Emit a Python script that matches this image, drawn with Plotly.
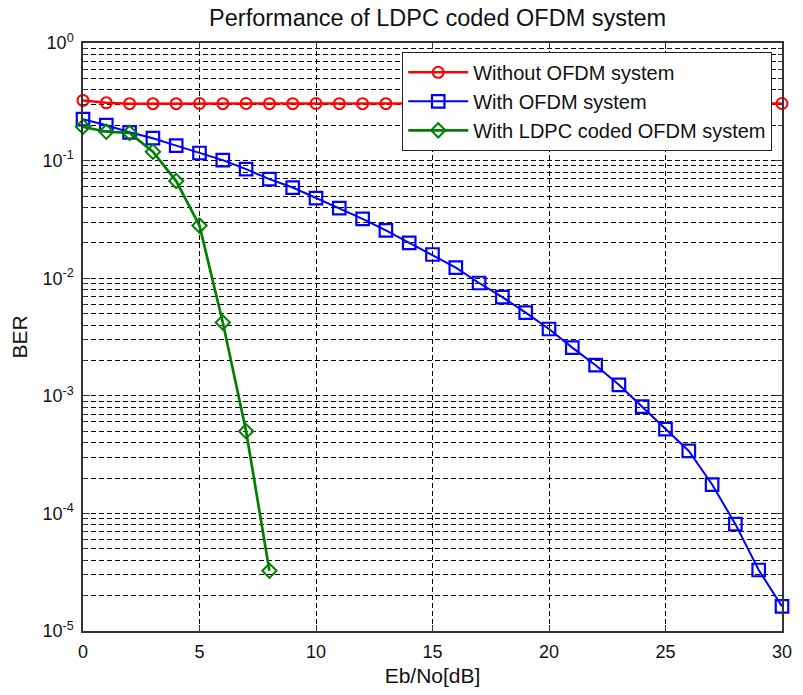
import plotly.graph_objects as go

# ---- data ----
ebno = list(range(0, 31))
ber_no_ofdm = [0.325, 0.31, 0.305, 0.305, 0.305, 0.306, 0.305, 0.306, 0.305, 0.305,
               0.306, 0.305, 0.305, 0.305, 0.306, 0.305, 0.305, 0.306, 0.305, 0.305,
               0.306, 0.305, 0.305, 0.305, 0.306, 0.305, 0.305, 0.306, 0.305, 0.305, 0.306]
ber_ofdm = [0.225, 0.2, 0.174, 0.155, 0.134, 0.116, 0.101, 0.0846, 0.0695, 0.059,
            0.048, 0.0395, 0.032, 0.0255, 0.020, 0.0159, 0.0123, 0.0091, 0.0069, 0.0051,
            0.0037, 0.00257, 0.00182, 0.00124, 0.00081, 0.00052, 0.00034, 0.000176,
            0.000081, 0.000033, 0.0000162]
ebno_ldpc = list(range(0, 9))
ber_ldpc = [0.194, 0.176, 0.172, 0.119, 0.067, 0.028, 0.0042, 0.0005, 0.0000325]

ytick_vals = [1e-5, 1e-4, 1e-3, 1e-2, 1e-1, 1e0]
ytick_text = ["10<sup>-5</sup>", "10<sup>-4</sup>", "10<sup>-3</sup>",
              "10<sup>-2</sup>", "10<sup>-1</sup>", "10<sup>0</sup>"]
yminor_vals = [m * 10.0 ** e for e in range(-5, 0) for m in range(2, 10)]
xtick_vals = [0, 5, 10, 15, 20, 25, 30]

FONT = "Liberation Sans, Arial, sans-serif"
GRID = "#000000"
AX = "#333333"

fig = go.Figure()
fig.add_trace(go.Scatter(
    x=ebno, y=ber_no_ofdm, name="Without OFDM system", mode="lines+markers",
    line=dict(color="#ff0000", width=2.5),
    marker=dict(symbol="circle-open", size=11, color="#ff0000", line=dict(width=2)),
    cliponaxis=False))
fig.add_trace(go.Scatter(
    x=ebno, y=ber_ofdm, name="With OFDM system", mode="lines+markers",
    line=dict(color="#0000ff", width=2),
    marker=dict(symbol="square-open", size=12.5, color="#0000ff", line=dict(width=2.2)),
    cliponaxis=False))
fig.add_trace(go.Scatter(
    x=ebno_ldpc, y=ber_ldpc, name="With LDPC coded OFDM system", mode="lines+markers",
    line=dict(color="#008000", width=2.7),
    marker=dict(symbol="diamond-open", size=11, color="#008000", line=dict(width=2)),
    cliponaxis=False))

fig.update_layout(
    width=803, height=695,
    margin=dict(l=83, r=11, t=43, b=62),
    paper_bgcolor="white", plot_bgcolor="white",
    font=dict(family=FONT, size=18, color="#111"),
    title=dict(text="Performance of LDPC coded OFDM system", x=0.545, xanchor="center",
               y=1 - 18 / 695, yanchor="middle", yref="container",
               font=dict(family=FONT, size=23.5, color="#111")),
    legend=dict(x=0.986, y=0.985, xanchor="right", yanchor="top",
                bgcolor="white", bordercolor="#222", borderwidth=1,
                font=dict(family=FONT, size=20, color="#111"),
                itemwidth=60, tracegroupgap=0),
    showlegend=True,
)

fig.update_xaxes(
    range=[0, 30], tickvals=xtick_vals, ticks="inside", ticklen=6, tickcolor=AX,
    showline=True, linecolor=AX, linewidth=1.5, mirror="ticks",
    showgrid=True, gridcolor=GRID, gridwidth=1, griddash="5px,3px",
    zeroline=False, tickfont=dict(size=18), ticklabelstandoff=4,
    title=dict(text="Eb/No[dB]", font=dict(size=21), standoff=7),
)
fig.update_yaxes(
    type="log", range=[-5, 0], tickvals=ytick_vals, ticktext=ytick_text,
    ticks="inside", ticklen=7, tickcolor=AX,
    showline=True, linecolor=AX, linewidth=1.5, mirror="ticks",
    showgrid=True, gridcolor=GRID, gridwidth=1, griddash="5px,3px",
    minor=dict(tickvals=yminor_vals, ticks="inside", ticklen=4, tickcolor=AX,
               showgrid=True, gridcolor=GRID, gridwidth=1, griddash="5px,3px"),
    zeroline=False, tickfont=dict(size=18), ticklabelstandoff=4,
    title=dict(text="BER", font=dict(size=21), standoff=9),
)

fig.write_html("out.html")
